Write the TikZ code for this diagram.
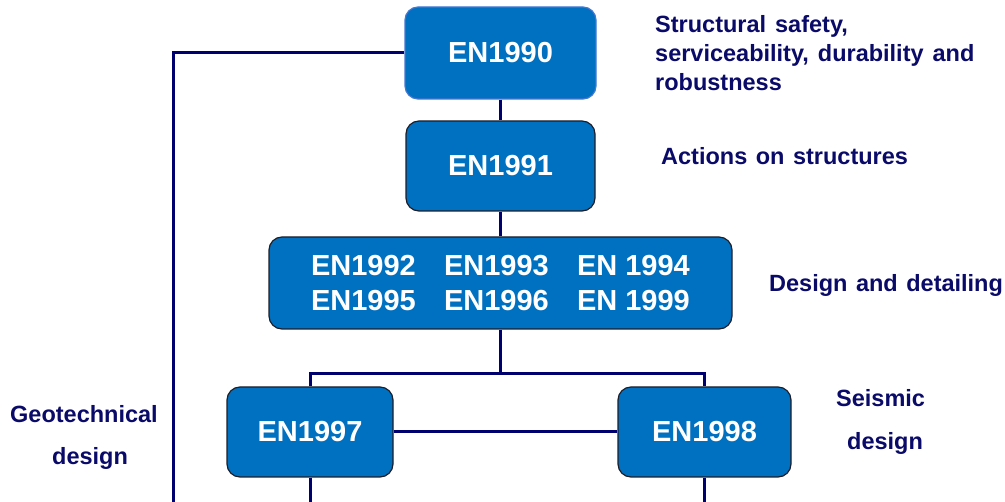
\documentclass[tikz,border=0pt]{standalone}
\usepackage{fontspec}
\setmainfont{Liberation Sans}
\definecolor{boxblue}{RGB}{0,112,192}
\definecolor{boxedge}{RGB}{30,30,40}
\definecolor{edgelight}{RGB}{70,120,210}
\definecolor{linkblue}{RGB}{0,0,110}
\definecolor{labelblue}{RGB}{10,10,105}
\newcommand{\labelfont}{\fontsize{23.5}{28}\selectfont\bfseries\spaceskip=8.5pt plus 1pt\relax}
\newcommand{\notefont}{\fontsize{23.5}{28}\selectfont\bfseries\spaceskip=9pt plus 1pt\relax}
\newcommand{\codecol}[1]{\makebox[133pt][l]{#1}}
\begin{document}
\begin{tikzpicture}[x=1pt,y=-1pt,
  box/.style={rectangle, rounded corners=13pt, fill=boxblue, draw=boxedge,
    line width=1.2pt, text=white, inner sep=0pt, align=center,
    font=\fontsize{29}{35}\selectfont\bfseries},
  link/.style={draw=linkblue, line width=3pt},
  lbl/.style={text=labelblue, inner sep=0pt, anchor=base west, font=\labelfont},
  note/.style={lbl, font=\notefont}]
\useasboundingbox (0,0) rectangle (1005,502);

% Eurocode boxes
\node[box, draw=edgelight, minimum width=191pt, minimum height=92pt] (n90) at (500.5,53) {EN1990};
\node[box, minimum width=189pt, minimum height=90pt] (n91) at (500.5,166) {EN1991};
\node[box, minimum width=463pt, minimum height=92pt] (mat) at (500.5,283)
  {\codecol{EN1992}\codecol{EN1993}EN 1994\\
   \codecol{EN1995}\codecol{EN1996}EN 1999};
\node[box, minimum width=166pt, minimum height=90pt] (n97) at (310,432) {EN1997};
\node[box, minimum width=173pt, minimum height=90pt] (n98) at (704.5,432) {EN1998};

% free ends and branch point of the connectors
\coordinate (split) at (500.5,374);
\coordinate (geoend) at (173,502);
\coordinate (end97) at (310,502);
\coordinate (end98) at (704.5,502);

% connectors
\draw[link] (n90.west) -| (geoend);
\draw[link] (n90.south) -- (n91.north);
\draw[link] (n91.south) -- (mat.north);
\draw[link] (mat.south) -- (split);
\draw[link] (split) -| (n97.north);
\draw[link] (split) -| (n98.north);
\draw[link] (n97.east) -- (n98.west);
\draw[link] (n97.south) -- (end97);
\draw[link] (n98.south) -- (end98);

% descriptions
\node[note] (t1) at (655,33) {Structural safety,};
\node[note] (t2) at (655,62) {serviceability, durability and};
\node[note] (t3) at (655,91) {robustness};
\node[lbl] (t4) at (661,165) {Actions on structures};
\node[lbl] (t5) at (769,292) {Design and detailing};
\node[lbl] (t6) at (836,407) {Seismic};
\node[lbl] (t7) at (847,450) {design};
\node[lbl] (t8) at (10,423) {Geotechnical};
\node[lbl] (t9) at (52,465) {design};
\end{tikzpicture}
\end{document}
